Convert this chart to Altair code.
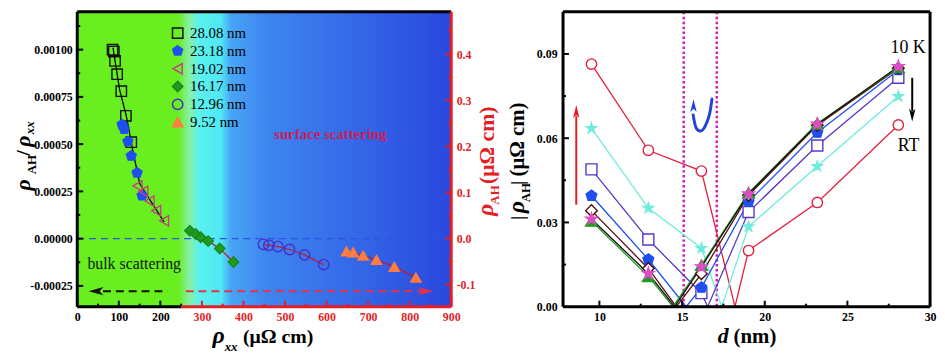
import altair as alt
import pandas as pd

FONT = "Liberation Serif"
RED = "#E41E26"
BLACK = "#000000"

# ================= DATA : left panel =================
samples = ["28.08 nm", "23.18 nm", "19.02 nm", "16.17 nm", "12.96 nm", "9.52 nm"]

rho_2808 = [85, 88, 91, 96, 106, 117, 130]
ratio_2808 = [0.00100, 0.00099, 0.00094, 0.00087, 0.00078, 0.00065, 0.00051]
rho_2318 = [108, 113, 122, 130, 144, 156]
ratio_2318 = [0.000603, 0.000579, 0.000514, 0.000438, 0.000348, 0.000228]
rho_1902 = [145, 159, 174, 190, 209]
ratio_1902 = [0.000279, 0.000250, 0.000199, 0.000148, 0.000094]
fit_bulk_rho = [86, 102, 118, 134, 150, 174, 209]
fit_bulk_ratio = [0.00101, 0.000787, 0.00065, 0.000463, 0.000293, 0.000208, 0.000089]

rho_1617 = [271, 285, 297, 315, 343, 376]
rah_1617 = [0.0168, 0.0097, 0.0027, -0.0057, -0.0218, -0.0510]
rho_1296 = [448, 461, 483, 511, 547, 593]
rah_1296 = [-0.0126, -0.0147, -0.0176, -0.0239, -0.0357, -0.0567]
rho_952 = [648, 664, 688, 720, 763, 815]
rah_952 = [-0.0281, -0.0302, -0.0371, -0.0462, -0.0617, -0.0848]

x1_major = [0, 100, 200, 300, 400, 500, 600, 700, 800, 900]
x1_minor = [50, 150, 250, 350, 450, 550, 650, 750, 850]
yl_major = [-0.00025, 0.0, 0.00025, 0.0005, 0.00075, 0.001]
yl_minor = [-0.000125, 0.000125, 0.000375, 0.000625, 0.000875, 0.001125]
yr_major = [-0.1, 0.0, 0.1, 0.2, 0.3, 0.4]
yr_minor = [-0.05, 0.05, 0.15, 0.25, 0.35, 0.45]

# ================= DATA : right panel =================
d_nm = [9.52, 12.96, 16.17, 19.02, 23.18, 28.08]
curves = ["c1", "c2", "c3", "c4", "c5", "c6", "c7"]
rah_c1 = [0.0864, 0.0557, 0.0483, 0.0200, 0.0371, 0.0647]   # red circles (RT)
rah_c2 = [0.0635, 0.0351, 0.0208, 0.0285, 0.0500, 0.0749]   # cyan stars
rah_c3 = [0.0489, 0.0239, 0.0048, 0.0337, 0.0574, 0.0815]   # purple squares
rah_c4 = [0.0395, 0.0168, 0.0068, 0.0374, 0.0620, 0.0843]   # blue pentagons
rah_c5 = [0.0342, 0.0136, 0.0117, 0.0397, 0.0646, 0.0849]   # dark red diamonds
rah_c6 = [0.0305, 0.0108, 0.0148, 0.0405, 0.0652, 0.0852]   # green triangles
rah_c7 = [0.0312, 0.0118, 0.0142, 0.0402, 0.0650, 0.0855]   # pink stars (10 K)
zero_d = [18.2, 17.4, 16.55, 15.25, 14.65, 14.45, 14.55]
zero_after = [2, 2, 2, 1, 1, 1, 1]

x2_major = [10, 15, 20, 25, 30]
x2_minor = [12.5, 17.5, 22.5, 27.5]
y2_major = [0.03, 0.06, 0.09]
y2_minor = [0.015, 0.045, 0.075]

# ================= layout =================
W1, W2, H = 378, 371, 298
K = H / 305.0
XT_BASE = 334.5      # baseline of the x-axis titles (plot-relative)


def ry(y_ref):
    return (y_ref - 3) * K


one = pd.DataFrame({"k": [0]})


def piece(text, x, y, size, color=BLACK, italic=False, bold=True, angle=0,
          align="center", baseline="alphabetic"):
    return alt.Chart(one).mark_text(
        text=text, font=FONT, fontSize=size,
        fontStyle="italic" if italic else "normal",
        fontWeight="bold" if bold else "normal",
        color=color, angle=angle, align=align, baseline=baseline,
    ).encode(x=alt.value(x), y=alt.value(y))


lab = dict(labelFont=FONT, labelFontSize=12, labelFontWeight="bold", ticks=False,
           tickSize=0, domain=False, grid=False, title=None, labelFlush=False,
           labelOverlap=False)

XS1 = alt.Scale(domain=[0, 900], nice=False, zero=False)
YS_L = alt.Scale(domain=[-0.00036, 0.0012], nice=False, zero=False)
YS_R = alt.Scale(domain=[-0.148, 0.492], nice=False, zero=False)
AX_X1 = alt.Axis(values=x1_major, format="d", labelPadding=5,
                 labelColor={"condition": {"test": "datum.value >= 250", "value": RED},
                             "value": BLACK}, **lab)
AX_YL = alt.Axis(values=yl_major, labelPadding=5,
                 labelExpr="(datum.value < 0 ? '-' : '') + format(abs(datum.value), '.5f')", **lab)
AX_YR = alt.Axis(values=yr_major, orient="right", labelPadding=5, labelColor=RED,
                 labelExpr="(datum.value < 0 ? '-' : '') + format(abs(datum.value), '.1f')", **lab)


def XL(f="rho"):
    return alt.X(f"{f}:Q", scale=XS1, axis=AX_X1)


def YL(f="val"):
    return alt.Y(f"{f}:Q", scale=YS_L, axis=AX_YL)


def YR(f="val"):
    return alt.Y(f"{f}:Q", scale=YS_R, axis=AX_YR)


PENT = "M0,-1L0.951,-0.309L0.588,0.809L-0.588,0.809L-0.951,-0.309Z"
STAR = ("M0,-1L0.2245,-0.309L0.951,-0.309L0.363,0.118L0.588,0.809L0,0.382"
        "L-0.588,0.809L-0.363,0.118L-0.951,-0.309L-0.2245,-0.309Z")
HEAD_L = "M-1,0L1,-0.55L0.5,0L1,0.55Z"
HEAD_R = "M1,0L-1,-0.55L-0.5,0L-1,0.55Z"
HEAD_U = "M0,-1L0.5,1L0,0.5L-0.5,1Z"
HEAD_D = "M0,1L0.5,-1L0,-0.5L-0.5,-1Z"

shape_sc = alt.Scale(domain=samples, range=["square", PENT, "triangle-left", "diamond", "circle", "triangle-up"])
fill_sc = alt.Scale(domain=samples, range=["transparent", "#1F4FEF", "transparent", "#1E9A1E", "transparent", "#FF7F45"])
stroke_sc = alt.Scale(domain=samples, range=["#101010", "#1F4FEF", "#C2457E", "#1A8A1A", "#4B2CC8", "#FF7A3D"])
LEG = alt.Legend(title=None, orient="none", legendX=94, legendY=14, labelFont=FONT,
                 labelFontSize=15, symbolSize=110, symbolStrokeWidth=1.5, rowPadding=1,
                 labelOffset=5, padding=0,
                 labelExpr="length(datum.label) < 8 ? '\u00a0\u00a0' + datum.label : datum.label")


def pts_enc():
    return dict(shape=alt.Shape("sample:N", scale=shape_sc, legend=LEG),
                fill=alt.Fill("sample:N", scale=fill_sc, legend=LEG),
                stroke=alt.Stroke("sample:N", scale=stroke_sc, legend=LEG))


bulk = pd.concat([
    pd.DataFrame({"sample": samples[0], "rho": rho_2808, "val": ratio_2808}),
    pd.DataFrame({"sample": samples[1], "rho": rho_2318, "val": ratio_2318}),
    pd.DataFrame({"sample": samples[2], "rho": rho_1902, "val": ratio_1902}),
], ignore_index=True)
surf = pd.concat([
    pd.DataFrame({"sample": samples[3], "rho": rho_1617, "val": rah_1617}),
    pd.DataFrame({"sample": samples[4], "rho": rho_1296, "val": rah_1296}),
    pd.DataFrame({"sample": samples[5], "rho": rho_952, "val": rah_952}),
], ignore_index=True)
fit = pd.DataFrame({"rho": fit_bulk_rho, "val": fit_bulk_ratio})

grad = alt.LinearGradient(gradient="linear", x1=0, x2=1, y1=0, y2=0, stops=[
    alt.GradientStop(offset=0.0, color="#69EE1F"),
    alt.GradientStop(offset=0.27, color="#69EE1F"),
    alt.GradientStop(offset=0.30, color="#86F0A8"),
    alt.GradientStop(offset=0.325, color="#5AF2EE"),
    alt.GradientStop(offset=0.385, color="#50E6F4"),
    alt.GradientStop(offset=0.41, color="#48A6F6"),
    alt.GradientStop(offset=0.5, color="#3E86F0"),
    alt.GradientStop(offset=1.0, color="#2A48DE"),
])

bg = alt.Chart(one).mark_rect(fill=grad).encode(
    x=alt.value(0), x2=alt.value(W1), y=alt.value(0), y2=alt.value(H))
zero_line = alt.Chart(pd.DataFrame({"val": [0.0]})).mark_rule(
    color="#2A55E0", strokeWidth=1.5, strokeDash=[7, 5]).encode(
    y=YL(), x=alt.value(0), x2=alt.value(W1))
arrow_y = -0.000278
blk_dash = alt.Chart(pd.DataFrame({"rho": [62], "rho2": [217], "val": [arrow_y]})).mark_rule(
    color="#111111", strokeWidth=2, strokeDash=[8, 5]).encode(x=XL(), x2="rho2:Q", y=YL())
blk_head = alt.Chart(pd.DataFrame({"rho": [45], "val": [arrow_y]})).mark_point(
    shape=HEAD_L, size=225, filled=True, color="#111111", opacity=1).encode(x=XL(), y=YL())
red_dash = alt.Chart(pd.DataFrame({"rho": [261], "rho2": [838], "val": [arrow_y]})).mark_rule(
    color="#E8304A", strokeWidth=2, strokeDash=[8, 5]).encode(x=XL(), x2="rho2:Q", y=YL())
red_head = alt.Chart(pd.DataFrame({"rho": [839], "val": [arrow_y]})).mark_point(
    shape=HEAD_R, size=225, filled=True, color="#E8304A", opacity=1).encode(x=XL(), y=YL())
fit_line = alt.Chart(fit).mark_line(color="#000000", strokeWidth=1.3).encode(x=XL(), y=YL())
bulk_pts = alt.Chart(bulk).mark_point(size=110, strokeWidth=1.4, opacity=1).encode(
    x=XL(), y=YL(), **pts_enc())
ann_bulk = alt.Chart(pd.DataFrame({"rho": [137], "val": [-0.000133]})).mark_text(
    text="bulk scattering", font=FONT, fontSize=16, color="#0E1A0E", baseline="middle").encode(
    x=XL(), y=YL())
ann_surf = alt.Chart(pd.DataFrame({"rho": [609], "val": [0.000552]})).mark_text(
    text="surface scattering", font=FONT, fontSize=15, fontWeight="bold", color="#C8205A",
    baseline="middle").encode(x=XL(), y=YL())


def yticks_left(vals, n):
    return alt.Chart(pd.DataFrame({"val": vals})).mark_rule(color=BLACK, strokeWidth=2).encode(
        y=YL(), x=alt.value(0), x2=alt.value(n))


def xticks_left(vals, n):
    return alt.Chart(pd.DataFrame({"rho": vals})).mark_rule(strokeWidth=2).encode(
        x=XL(), y=alt.value(H), y2=alt.value(H - n),
        color=alt.condition("datum.rho > 250", alt.value(RED), alt.value(BLACK)))


YB = -48   # baseline of rotated left title (plot-relative x)
left_titles = [
    piece("ρ", YB, ry(182), 22, italic=True, angle=270),
    piece("AH", YB + 6, ry(161), 13, angle=270),
    piece("/", YB, ry(149), 20, angle=270),
    piece("ρ", YB, ry(136.7), 22, italic=True, angle=270),
    piece("xx", YB + 4.5, ry(123), 13, italic=True, angle=270),
    piece("ρ", 220 - 77, XT_BASE, 24, italic=True),
    piece("xx", 232.5 - 77, XT_BASE + 8.5, 13, italic=True),
    piece("(μΩ cm)", 280 - 77, XT_BASE, 20),
]

left_group = alt.layer(
    bg, zero_line, blk_dash, blk_head, red_dash, red_head, fit_line, bulk_pts,
    ann_bulk, ann_surf,
    yticks_left(yl_major, 6), yticks_left(yl_minor, 3),
    xticks_left(x1_major, 6), xticks_left(x1_minor, 3),
    *left_titles,
)

surf_lines = alt.Chart(surf).mark_line(color="#B8203E", strokeWidth=1.3).encode(
    x=XL(), y=YR(), detail="sample:N")
surf_pts = alt.Chart(surf).mark_point(size=110, strokeWidth=1.4, opacity=1).encode(
    x=XL(), y=YR(), **pts_enc())


def yticks_right(vals, n):
    return alt.Chart(pd.DataFrame({"val": vals})).mark_rule(color=RED, strokeWidth=2).encode(
        y=YR(), x=alt.value(W1), x2=alt.value(W1 - n))


frame_left = [
    alt.Chart(one).mark_rule(color=BLACK, strokeWidth=3).encode(
        x=alt.value(0), x2=alt.value(W1), y=alt.value(0)),
    alt.Chart(one).mark_rule(color=BLACK, strokeWidth=3).encode(
        x=alt.value(0), y=alt.value(0), y2=alt.value(H)),
    alt.Chart(one).mark_rule(color=RED, strokeWidth=3).encode(
        x=alt.value(W1), y=alt.value(0), y2=alt.value(H)),
    alt.Chart(pd.DataFrame({"rho": [0], "rho2": [250]})).mark_rule(color=BLACK, strokeWidth=3).encode(
        x=XL(), x2="rho2:Q", y=alt.value(H)),
    alt.Chart(pd.DataFrame({"rho": [250], "rho2": [900]})).mark_rule(color=RED, strokeWidth=3).encode(
        x=XL(), x2="rho2:Q", y=alt.value(H)),
]

red_title = [
    piece("ρ", 497 - 77, ry(208), 24, RED, italic=True, angle=270),
    piece("AH", 503 - 77, ry(192.5), 13, RED, angle=270),
    piece("(μΩ cm)", 498 - 77, ry(141), 22, RED, angle=270),
]

right_group = alt.layer(
    surf_lines, surf_pts, yticks_right(yr_major, 6), yticks_right(yr_minor, 3),
    *frame_left, *red_title,
)

left_panel = alt.layer(left_group, right_group).resolve_scale(y="independent").properties(
    width=W1, height=H)

# ================= right panel =================
XS2 = alt.Scale(domain=[7.8, 30], nice=False, zero=False)
YS2 = alt.Scale(domain=[0, 0.105], nice=False, zero=False)
AX_X2 = alt.Axis(values=x2_major, format="d", labelPadding=5, **lab)
AX_Y2 = alt.Axis(values=[0, 0.03, 0.06, 0.09], format=".2f", labelPadding=6, **lab)


def X2(f="d"):
    return alt.X(f"{f}:Q", scale=XS2, axis=AX_X2)


def Y2(f="v"):
    return alt.Y(f"{f}:Q", scale=YS2, axis=AX_Y2)


all_rah = [rah_c1, rah_c2, rah_c3, rah_c4, rah_c5, rah_c6, rah_c7]
line_rows, pt_rows = [], []
for c, vals, zd, za in zip(curves, all_rah, zero_d, zero_after):
    for i, (d, v) in enumerate(zip(d_nm, vals)):
        line_rows.append({"curve": c, "d": d, "v": v})
        pt_rows.append({"curve": c, "d": d, "v": v})
        if i == za:
            line_rows.append({"curve": c, "d": zd, "v": 0.0})
lines_df = pd.DataFrame(line_rows)
pts_df = pd.DataFrame(pt_rows)

line_colors = ["#E4203E", "#6FEBDD", "#5538C6", "#1F4FEF", "#5C0A0A", "#1E9A1E", "#111111"]
m_shapes = ["circle", STAR, "square", PENT, "diamond", "triangle-up", STAR]
m_fill = ["#FFFFFF", "#6FEBDD", "#FFFFFF", "#1F4FEF", "#FFFFFF", "#1E9A1E", "#E04BC8"]
m_stroke = ["#E4203E", "#6FEBDD", "#5538C6", "#1F4FEF", "#4A0808", "#1E9A1E", "#E04BC8"]
m_size = [110, 150, 85, 150, 120, 90, 70]

vlines = alt.Chart(pd.DataFrame({"d": [15.1, 17.1]})).mark_rule(
    color="#D21DB4", strokeWidth=2.5, strokeDash=[2.5, 2.5]).encode(
    x=X2(), y=alt.value(0), y2=alt.value(H))
rlines = alt.Chart(lines_df).mark_line(strokeWidth=1.3).encode(
    x=X2(), y=Y2(), color=alt.Color("curve:N", scale=alt.Scale(domain=curves, range=line_colors), legend=None),
    detail="curve:N")
rpts = alt.Chart(pts_df).mark_point(opacity=1, strokeWidth=1.4).encode(
    x=X2(), y=Y2(),
    shape=alt.Shape("curve:N", scale=alt.Scale(domain=curves, range=m_shapes), legend=None),
    fill=alt.Fill("curve:N", scale=alt.Scale(domain=curves, range=m_fill), legend=None),
    stroke=alt.Stroke("curve:N", scale=alt.Scale(domain=curves, range=m_stroke), legend=None),
    size=alt.Size("curve:N", scale=alt.Scale(domain=curves, range=m_size), legend=None),
)

red_arrow = alt.Chart(pd.DataFrame({"d": [8.6], "v": [0.0363], "v2": [0.068]})).mark_rule(
    color="#E41E26", strokeWidth=2).encode(x=X2(), y=Y2(), y2="v2:Q")
red_arrow_head = alt.Chart(pd.DataFrame({"d": [8.6], "v": [0.0695]})).mark_point(
    shape=HEAD_U, size=169, filled=True, color="#E41E26", opacity=1).encode(x=X2(), y=Y2())
blk_arrow = alt.Chart(pd.DataFrame({"d": [28.92], "v": [0.0815], "v2": [0.0695]})).mark_rule(
    color=BLACK, strokeWidth=2).encode(x=X2(), y=Y2(), y2="v2:Q")
blk_arrow_head = alt.Chart(pd.DataFrame({"d": [28.92], "v": [0.0682]})).mark_point(
    shape=HEAD_D, size=169, filled=True, color=BLACK, opacity=1).encode(x=X2(), y=Y2())
curl = pd.DataFrame({"d": [16.81, 16.65, 16.39, 16.15, 15.85, 15.67],
                     "v": [0.0740, 0.0683, 0.0642, 0.0626, 0.0637, 0.0683],
                     "o": [0, 1, 2, 3, 4, 5]})
curl_line = alt.Chart(curl).mark_line(color="#2343D8", strokeWidth=3, interpolate="cardinal",
                                      strokeCap="round").encode(x=X2(), y=Y2(), order="o:Q")
curl_head = alt.Chart(pd.DataFrame({"d": [15.69], "v": [0.0716]})).mark_point(
    shape=HEAD_U, size=169, filled=True, color="#2343D8", opacity=1).encode(x=X2(), y=Y2())
txt_10k = alt.Chart(pd.DataFrame({"d": [28.67], "v": [0.0921]})).mark_text(
    text="10 K", font=FONT, fontSize=18, color=BLACK, baseline="middle").encode(x=X2(), y=Y2())
txt_rt = alt.Chart(pd.DataFrame({"d": [28.7], "v": [0.0572]})).mark_text(
    text="RT", font=FONT, fontSize=18, color=BLACK, baseline="middle").encode(x=X2(), y=Y2())


def xt2(vals, n):
    return alt.Chart(pd.DataFrame({"d": vals})).mark_rule(color=BLACK, strokeWidth=2).encode(
        x=X2(), y=alt.value(H), y2=alt.value(H - n))


def yt2(vals, n):
    return alt.Chart(pd.DataFrame({"v": vals})).mark_rule(color=BLACK, strokeWidth=2).encode(
        y=Y2(), x=alt.value(0), x2=alt.value(n))


frame_right = [
    alt.Chart(one).mark_rule(color=BLACK, strokeWidth=3).encode(x=alt.value(0), x2=alt.value(W2), y=alt.value(0)),
    alt.Chart(one).mark_rule(color=BLACK, strokeWidth=3).encode(x=alt.value(0), x2=alt.value(W2), y=alt.value(H)),
    alt.Chart(one).mark_rule(color=BLACK, strokeWidth=3).encode(x=alt.value(0), y=alt.value(0), y2=alt.value(H)),
    alt.Chart(one).mark_rule(color=BLACK, strokeWidth=3).encode(x=alt.value(W2), y=alt.value(0), y2=alt.value(H)),
]

right_titles = [
    piece("|", 527 - 566, ry(216), 20, angle=270),
    piece("ρ", 527 - 566, ry(205), 24, italic=True, angle=270),
    piece("AH", 533 - 566, ry(190), 13, angle=270),
    piece("|", 527 - 566, ry(180), 20, angle=270),
    piece("(μΩ cm)", 527 - 566, ry(135), 21, angle=270),
    piece("d", 728 - 566, XT_BASE, 22, italic=True),
    piece("(nm)", 760 - 566, XT_BASE, 21),
]

right_panel = alt.layer(
    vlines, rlines, rpts, red_arrow, red_arrow_head, blk_arrow, blk_arrow_head,
    curl_line, curl_head, txt_10k, txt_rt,
    xt2(x2_major, 6), xt2(x2_minor, 3), yt2(y2_major, 6), yt2(y2_minor, 3),
    *frame_right, *right_titles,
).properties(width=W2, height=H)

chart = alt.hconcat(left_panel, right_panel, spacing=2).resolve_scale(
    x="independent", y="independent", color="independent", shape="independent",
    fill="independent", stroke="independent", size="independent",
).properties(
    padding={"left": 3, "top": 0, "right": 0, "bottom": 0}
).configure_view(stroke=None).configure(font=FONT)

chart.save("out.html", embed_options={"renderer": "svg", "actions": False})
